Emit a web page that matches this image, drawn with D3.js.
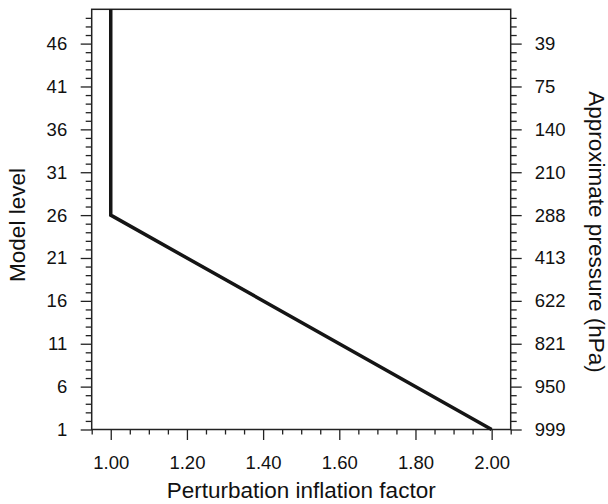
<!DOCTYPE html>
<html>
<head>
<meta charset="utf-8">
<script src="https://cdn.jsdelivr.net/npm/d3@7"></script>
<style>
  html, body { margin: 0; padding: 0; background: #fff; }
  svg { display: block; }
  text { font-family: "Liberation Sans", Arial, Helvetica, sans-serif; fill: #111; }
</style>
</head>
<body>
<svg id="chart" width="608" height="504"></svg>
<script>
// ---- Data ----
const levelTicks = [1, 6, 11, 16, 21, 26, 31, 36, 41, 46];
const pressureLabels = ["999", "950", "821", "622", "413", "288", "210", "140", "75", "39"];
const factorTicks = [1.0, 1.2, 1.4, 1.6, 1.8, 2.0];
const profileLevel = [1, 26, 50];
const profileFactor = [2.0, 1.0, 1.0];
const levelDomain = [1, 50];
const factorDomain = [0.95, 2.05];

// ---- Layout ----
const plotL = 91.7, plotR = 510.7, plotT = 9.3, plotB = 429.5;
const svg = d3.select("#chart");

const x = d3.scaleLinear().domain(factorDomain).range([plotL, plotR]);
const y = d3.scaleLinear().domain(levelDomain).range([plotB, plotT]);

const tickFont = "18.5px";
const titleFont = "22.5px";
const axisColor = "#222";

function styleAxis(g) {
  g.select(".domain").remove();
  g.selectAll(".tick line").attr("stroke", axisColor).attr("stroke-width", 1.3);
  g.selectAll("text").style("font-size", tickFont).attr("fill", "#111");
}

// minor ticks
const minorLevels = d3.range(1, 50).filter(v => (v - 1) % 5 !== 0);
const minorFactors = d3.range(19, 42).map(i => i * 0.05).filter(v => Math.abs(Math.round(v / 0.2) * 0.2 - v) > 1e-6);

svg.append("g").attr("transform", `translate(${plotL},0)`)
  .call(d3.axisLeft(y).tickValues(minorLevels).tickSize(6).tickFormat(""))
  .call(styleAxis);
svg.append("g").attr("transform", `translate(${plotR},0)`)
  .call(d3.axisRight(y).tickValues(minorLevels).tickSize(6).tickFormat(""))
  .call(styleAxis);
svg.append("g").attr("transform", `translate(0,${plotB})`)
  .call(d3.axisBottom(x).tickValues(minorFactors).tickSize(5).tickFormat(""))
  .call(styleAxis);

// major ticks
svg.append("g").attr("transform", `translate(${plotL},0)`)
  .call(d3.axisLeft(y).tickValues(levelTicks).tickSize(11).tickPadding(13.5).tickFormat(d3.format("d")))
  .call(styleAxis);
svg.append("g").attr("transform", `translate(${plotR},0)`)
  .call(d3.axisRight(y).tickValues(levelTicks).tickSize(11).tickPadding(13)
    .tickFormat((d, i) => pressureLabels[i]))
  .call(styleAxis);
svg.append("g").attr("transform", `translate(0,${plotB})`)
  .call(d3.axisBottom(x).tickValues(factorTicks).tickSize(10.5).tickPadding(15.5).tickFormat(d3.format(".2f")))
  .call(styleAxis);

// frame
svg.append("rect")
  .attr("x", plotL).attr("y", plotT)
  .attr("width", plotR - plotL).attr("height", plotB - plotT)
  .attr("fill", "none").attr("stroke", axisColor).attr("stroke-width", 1.5);

// profile line
const pts = profileLevel.map((l, i) => [profileFactor[i], l]);
svg.append("path")
  .datum(pts)
  .attr("fill", "none")
  .attr("stroke", "#151515")
  .attr("stroke-width", 3.5)
  .attr("stroke-linejoin", "miter")
  .attr("d", d3.line().x(d => x(d[0])).y(d => y(d[1])));

// titles
svg.append("text")
  .attr("x", (plotL + plotR) / 2).attr("y", 498)
  .attr("text-anchor", "middle")
  .style("font-size", titleFont)
  .text("Perturbation inflation factor");

svg.append("text")
  .attr("transform", `translate(25,225) rotate(-90)`)
  .attr("text-anchor", "middle")
  .style("font-size", titleFont)
  .text("Model level");

svg.append("text")
  .attr("transform", `translate(589,232) rotate(90)`)
  .attr("text-anchor", "middle")
  .style("font-size", titleFont)
  .text("Approximate pressure (hPa)");
</script>
</body>
</html>
